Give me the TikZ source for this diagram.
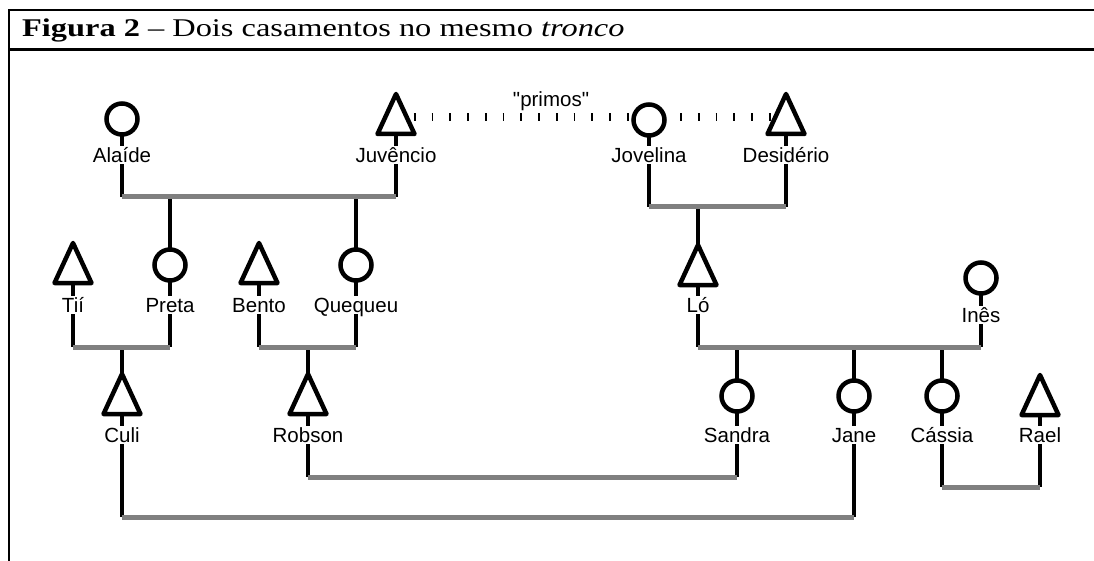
\documentclass[tikz,border=0pt]{standalone}
\usepackage{fontspec}
\setmainfont{Liberation Serif}
\newfontfamily\rotulo{Liberation Sans}
\usetikzlibrary{shapes.geometric,backgrounds,calc}

\begin{document}
\begin{tikzpicture}[x=1pt,y=-1pt,
  fem/.style={circle,draw,fill=white,line width=4.5pt,minimum size=31pt,inner sep=0pt,outer sep=0pt},
  masc/.style={isosceles triangle,isosceles triangle stretches,shape border rotate=90,draw,fill=white,line width=4.5pt,line join=round,minimum width=37pt,minimum height=40pt,inner sep=0pt,outer sep=0pt,anchor=apex},
  nome/.style={fill=white,inner sep=2pt,font=\rotulo\fontsize{20.5}{24}\selectfont,text height=14.7pt,text depth=0pt},
  linha/.style={line width=4.5pt},
  casal/.style={draw=gray,line width=5pt},
  primo/.style={line width=8pt,dash pattern=on 1.8pt off 15.95pt}]

\useasboundingbox (0,0) rectangle (1094,561);

\draw[line width=2.7pt] (1094,10) -- (9,10) -- (9,561);
\draw[line width=2.7pt] (9,49.3) -- (1094,49.3);
\node[anchor=base west,inner sep=0pt] (titulo) at (22,37) {\scalebox{1.27}[1]{\fontsize{25.5}{30}\selectfont\textbf{Figura 2} – Dois casamentos no mesmo \textit{tronco}}};

% pessoas
\node[fem] (alaide) at (122,119) {};
\node[masc] (juvencio) at (396,94) {};
\node[fem] (jovelina) at (649,120) {};
\node[masc] (desiderio) at (786,94) {};

\node[masc] (tii) at (73,243) {};
\node[fem] (preta) at (170,265) {};
\node[masc] (bento) at (259,243) {};
\node[fem] (quequeu) at (356,265) {};
\node[masc] (lo) at (698,245) {};
\node[fem] (ines) at (981,278) {};

\node[masc] (culi) at (122,374) {};
\node[masc] (robson) at (308,374) {};
\node[fem] (sandra) at (737,396) {};
\node[fem] (jane) at (854,396) {};
\node[fem] (cassia) at (942,396) {};
\node[masc] (rael) at (1040,375) {};

% nomes
\node[nome] (nAlaide) at (122,155) {Alaíde};
\node[nome] (nJuvencio) at (396,155) {Juvêncio};
\node[nome] (nJovelina) at (649,155) {Jovelina};
\node[nome] (nDesiderio) at (786,155) {Desidério};
\node[nome] (nTii) at (73,305) {Tií};
\node[nome] (nPreta) at (170,305) {Preta};
\node[nome] (nBento) at (259,305) {Bento};
\node[nome] (nQuequeu) at (356,305) {Quequeu};
\node[nome] (nLo) at (698,305) {Ló};
\node[nome] (nInes) at (981,315) {Inês};
\node[nome] (nCuli) at (122,435) {Culi};
\node[nome] (nRobson) at (308,435) {Robson};
\node[nome] (nSandra) at (737,435) {Sandra};
\node[nome] (nJane) at (854,435) {Jane};
\node[nome] (nCassia) at (942,435) {Cássia};
\node[nome] (nRael) at (1040,435) {Rael};
\node[font=\rotulo\fontsize{20.5}{24}\selectfont,inner sep=0pt,anchor=base] (primos) at (551,107) {"primos"};

\begin{scope}[on background layer]
\coordinate (u1) at (0,197);
\coordinate (u2) at (0,207);
\coordinate (u3) at (0,347);
\coordinate (u6) at (0,477);
\coordinate (u7) at (0,517);
\coordinate (u8) at (0,487);

\draw[primo] ($(juvencio.apex)!0.57!(juvencio.lower side)$) -- ($(desiderio.apex)!0.57!(desiderio.lower side)$);

\draw[linha] (alaide) -- (alaide |- u1);
\draw[linha] (juvencio) -- (juvencio |- u1);
\draw[linha] (preta) -- (preta |- u1);
\draw[linha] (quequeu) -- (quequeu |- u1);
\draw[casal] (alaide |- u1) -- (juvencio |- u1);

\draw[linha] (jovelina) -- (jovelina |- u2);
\draw[linha] (desiderio) -- (desiderio |- u2);
\draw[linha] (lo) -- (lo |- u2);
\draw[casal] (jovelina |- u2) -- (desiderio |- u2);

\draw[linha] (tii) -- (tii |- u3);
\draw[linha] (preta) -- (preta |- u3);
\draw[linha] (culi) -- (culi |- u3);
\draw[casal] (tii |- u3) -- (preta |- u3);

\draw[linha] (bento) -- (bento |- u3);
\draw[linha] (quequeu) -- (quequeu |- u3);
\draw[linha] (robson) -- (robson |- u3);
\draw[casal] (bento |- u3) -- (quequeu |- u3);

\draw[linha] (lo) -- (lo |- u3);
\draw[linha] (ines) -- (ines |- u3);
\draw[linha] (sandra) -- (sandra |- u3);
\draw[linha] (jane) -- (jane |- u3);
\draw[linha] (cassia) -- (cassia |- u3);
\draw[casal] (lo |- u3) -- (ines |- u3);

\draw[linha] (robson) -- (robson |- u6);
\draw[linha] (sandra) -- (sandra |- u6);
\draw[casal] (robson |- u6) -- (sandra |- u6);

\draw[linha] (culi) -- (culi |- u7);
\draw[linha] (jane) -- (jane |- u7);
\draw[casal] (culi |- u7) -- (jane |- u7);

\draw[linha] (cassia) -- (cassia |- u8);
\draw[linha] (rael) -- (rael |- u8);
\draw[casal] (cassia |- u8) -- (rael |- u8);
\end{scope}

\end{tikzpicture}
\end{document}
